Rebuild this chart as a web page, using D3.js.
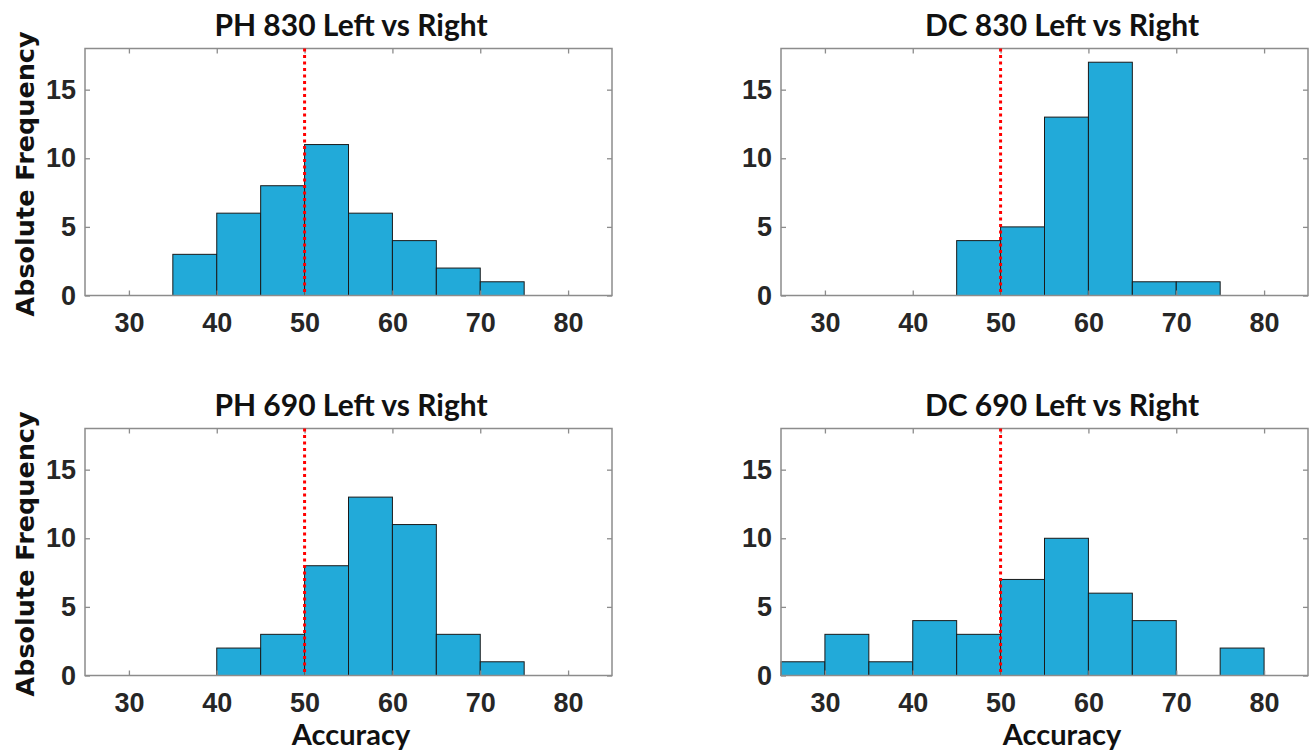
<!DOCTYPE html>
<html>
<head>
<meta charset="utf-8">
<script src="https://cdn.jsdelivr.net/npm/d3@7"></script>
<style>
  html, body { margin: 0; padding: 0; background: #fff; }
  svg { display: block; }
</style>
</head>
<body>
<div id="chart"></div>
<script>
// histogram bins (5 wide) starting at these accuracy values
const binStarts = [25, 30, 35, 40, 45, 50, 55, 60, 65, 70, 75, 80];
const binWidth = 5;

// counts per bin
const ph830 = [0, 0, 3, 6, 8, 11, 6, 4, 2, 1, 0, 0];
const dc830 = [0, 0, 0, 0, 4, 5, 13, 17, 1, 1, 0, 0];
const ph690 = [0, 0, 0, 2, 3, 8, 13, 11, 3, 1, 0, 0];
const dc690 = [1, 3, 1, 4, 3, 7, 10, 6, 4, 0, 2, 0];

const titles = ['PH 830 Left vs Right', 'DC 830 Left vs Right', 'PH 690 Left vs Right', 'DC 690 Left vs Right'];
const xTicks = [30, 40, 50, 60, 70, 80];
const yTicks = [0, 5, 10, 15];
const xDomain = [25, 85];
const yDomain = [0, 18];
const chanceLevel = 50;

const W = 1314, H = 752;
const colors = {
  bar: '#22aad9',
  barStroke: '#1a1a1a',
  frame: '#8c8c8c',
  tickText: '#262626',
  label: '#111',
  chance: '#ff0000'
};

// panel boxes (left, top) + where the title/label sit
const panels = [
  { data: ph830, title: titles[0], x0: 85,  y0: 48.5,  titleX: 351,  yLabel: true,  xLabel: false },
  { data: dc830, title: titles[1], x0: 781, y0: 48.5,  titleX: 1062, yLabel: false, xLabel: false },
  { data: ph690, title: titles[2], x0: 85,  y0: 428.5, titleX: 351,  yLabel: true,  xLabel: true },
  { data: dc690, title: titles[3], x0: 781, y0: 428.5, titleX: 1062, yLabel: false, xLabel: true }
];
const pw = 527, ph = 247;

const svg = d3.select('#chart').append('svg').attr('width', W).attr('height', H);

panels.forEach(p => {
  const g = svg.append('g').attr('transform', `translate(${p.x0},${p.y0})`);
  const x = d3.scaleLinear().domain(xDomain).range([0, pw]);
  const y = d3.scaleLinear().domain(yDomain).range([ph, 0]);

  const bins = binStarts.map((s, i) => ({ x0: s, x1: s + binWidth, n: p.data[i] })).filter(d => d.n > 0);

  g.selectAll('rect.bar').data(bins).join('rect')
    .attr('class', 'bar')
    .attr('x', d => x(d.x0))
    .attr('y', d => y(d.n))
    .attr('width', d => x(d.x1) - x(d.x0))
    .attr('height', d => y(0) - y(d.n))
    .attr('fill', colors.bar)
    .attr('stroke', colors.barStroke)
    .attr('stroke-width', 1);

  // axes: ticks point inward, MATLAB style box
  const styleAxis = sel => {
    sel.select('.domain').remove();
    sel.selectAll('.tick line').attr('stroke', colors.frame).attr('stroke-width', 1.3);
    sel.selectAll('.tick text')
      .attr('fill', colors.tickText)
      .attr('font-family', '"Liberation Sans", Arial, sans-serif')
      .attr('font-weight', 'bold')
      .attr('font-size', '27px');
  };

  g.append('g').attr('transform', `translate(0,${ph})`)
    .call(d3.axisBottom(x).tickValues(xTicks).tickSize(-5).tickPadding(17).tickFormat(d3.format('d')))
    .call(styleAxis);
  g.append('g')
    .call(d3.axisTop(x).tickValues(xTicks).tickSize(-5).tickFormat(''))
    .call(styleAxis);
  g.append('g')
    .call(d3.axisLeft(y).tickValues(yTicks).tickSize(-5).tickPadding(9).tickFormat(d3.format('d')))
    .call(styleAxis);
  g.append('g').attr('transform', `translate(${pw},0)`)
    .call(d3.axisRight(y).tickValues(yTicks).tickSize(-5).tickFormat(''))
    .call(styleAxis);

  g.append('rect')
    .attr('width', pw).attr('height', ph)
    .attr('fill', 'none')
    .attr('stroke', colors.frame)
    .attr('stroke-width', 1.5);

  // chance line
  g.append('line')
    .attr('x1', x(chanceLevel)).attr('x2', x(chanceLevel))
    .attr('y1', y(yDomain[1])).attr('y2', y(0))
    .attr('stroke', colors.chance)
    .attr('stroke-width', 3)
    .attr('stroke-dasharray', '3,3.5');

  svg.append('text')
    .attr('x', p.titleX).attr('y', p.y0 - 13)
    .attr('text-anchor', 'middle')
    .attr('font-family', 'Lato, "Open Sans", sans-serif')
    .attr('font-weight', 'bold')
    .attr('font-size', '30px')
    .attr('fill', colors.label)
    .text(p.title);

  if (p.yLabel) {
    svg.append('text')
      .attr('transform', `translate(34,${p.y0 + ph / 2 + 2}) rotate(-90)`)
      .attr('text-anchor', 'middle')
      .attr('font-family', '"DejaVu Sans", Verdana, sans-serif')
      .attr('font-weight', 'bold')
      .attr('font-size', '25.5px')
      .attr('fill', colors.label)
      .text('Absolute Frequency');
  }
  if (p.xLabel) {
    svg.append('text')
      .attr('x', p.titleX).attr('y', p.y0 + ph + 69)
      .attr('text-anchor', 'middle')
      .attr('font-family', 'Lato, "Open Sans", sans-serif')
      .attr('font-weight', 'bold')
      .attr('font-size', '29px')
      .attr('fill', colors.label)
      .text('Accuracy');
  }
});
</script>
</body>
</html>
